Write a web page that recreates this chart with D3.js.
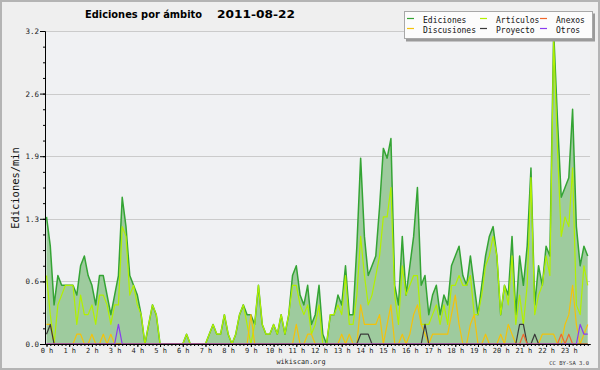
<!DOCTYPE html>
<html>
<head>
<meta charset="utf-8">
<script src="https://cdn.jsdelivr.net/npm/d3@7"></script>
<style>
  body { margin: 0; background: #efefef; }
  svg { display: block; }
</style>
</head>
<body>
<svg id="chart" width="600" height="370"></svg>
<script>
// one sample every 10 minutes, 00:00 .. 23:50 (edits per minute)
var ediciones = [
  1.3,1.0,0.4,0.7,0.6,0.6, 0.6,0.6,0.5,0.8,0.9,0.7,
  0.6,0.4,0.7,0.7,0.5,0.3, 0.5,0.7,1.5,1.2,0.7,0.6,
  0.5,0.3,0.0,0.2,0.4,0.3, 0.0,0.0,0.0,0.0,0.0,0.0,
  0.0,0.1,0.0,0.0,0.0,0.0, 0.0,0.1,0.2,0.1,0.1,0.3,
  0.1,0.0,0.1,0.3,0.4,0.3, 0.3,0.2,0.6,0.2,0.1,0.1,
  0.2,0.1,0.3,0.1,0.3,0.7, 0.8,0.5,0.4,0.6,0.2,0.3,
  0.6,0.1,0.0,0.3,0.3,0.5, 0.4,0.8,0.3,0.3,1.0,1.9,
  1.1,0.7,0.8,0.9,1.4,2.0, 1.9,2.1,0.6,0.4,1.1,0.5,
  0.8,1.1,1.6,0.6,0.7,0.3, 0.5,0.6,0.3,0.5,0.4,0.8,
  0.9,1.0,0.7,0.6,0.9,0.6, 0.3,0.6,0.9,1.1,1.2,0.9,
  0.3,0.6,0.5,1.1,0.3,0.9, 0.6,1.0,1.8,0.4,0.8,0.6,
  1.0,0.9,3.2,2.3,1.5,1.6, 1.7,2.4,1.2,0.8,1.0,0.9
];
var articulos = [
  0.7,0.3,0.0,0.4,0.5,0.6, 0.6,0.6,0.2,0.5,0.3,0.3,
  0.4,0.2,0.5,0.5,0.4,0.2, 0.4,0.4,1.2,1.1,0.5,0.6,
  0.4,0.3,0.0,0.2,0.4,0.3, 0.0,0.0,0.0,0.0,0.0,0.0,
  0.0,0.1,0.0,0.0,0.0,0.0, 0.0,0.1,0.2,0.1,0.1,0.3,
  0.1,0.0,0.1,0.3,0.4,0.2, 0.0,0.2,0.6,0.2,0.1,0.1,
  0.2,0.1,0.3,0.1,0.3,0.6, 0.6,0.4,0.3,0.4,0.1,0.2,
  0.4,0.0,0.0,0.3,0.3,0.4, 0.3,0.7,0.2,0.2,0.5,1.1,
  0.7,0.4,0.5,0.7,0.9,1.3, 1.3,1.6,0.5,0.2,0.8,0.5,
  0.6,0.7,0.7,0.2,0.2,0.2, 0.3,0.4,0.2,0.4,0.2,0.6,
  0.6,0.7,0.6,0.6,0.7,0.3, 0.3,0.5,0.8,0.9,1.1,0.9,
  0.3,0.6,0.4,0.9,0.2,0.5, 0.2,0.6,1.7,0.3,0.5,0.6,
  0.9,0.7,3.1,2.0,1.1,1.3, 1.2,1.8,0.4,0.3,0.8,0.6
];
var discusiones = [
  0.2,0.2,0.0,0.0,0.0,0.0, 0.0,0.0,0.1,0.1,0.0,0.0,
  0.1,0.0,0.0,0.1,0.0,0.1, 0.0,0.0,0.0,0.0,0.0,0.0,
  0.0,0.0,0.0,0.0,0.0,0.0, 0.0,0.0,0.0,0.0,0.0,0.0,
  0.0,0.0,0.0,0.0,0.0,0.0, 0.0,0.0,0.0,0.0,0.0,0.0,
  0.0,0.0,0.0,0.0,0.0,0.0, 0.3,0.0,0.0,0.0,0.0,0.0,
  0.0,0.0,0.0,0.0,0.0,0.0, 0.2,0.0,0.0,0.1,0.1,0.0,
  0.0,0.0,0.0,0.0,0.0,0.0, 0.1,0.0,0.1,0.0,0.0,0.4,
  0.2,0.2,0.2,0.2,0.3,0.0, 0.2,0.4,0.0,0.0,0.1,0.0,
  0.1,0.3,0.4,0.2,0.1,0.0, 0.1,0.1,0.1,0.1,0.1,0.3,
  0.5,0.2,0.0,0.0,0.2,0.3, 0.0,0.0,0.1,0.0,0.0,0.0,
  0.1,0.0,0.2,0.1,0.0,0.0, 0.0,0.0,0.0,0.0,0.0,0.1,
  0.1,0.1,0.1,0.0,0.0,0.2, 0.3,0.6,0.2,0.0,0.1,0.2
];
var proyecto = [
  0.1,0.2,0.0,0.0,0.0,0.0, 0.0,0.0,0.0,0.0,0.0,0.0,
  0.0,0.0,0.0,0.0,0.0,0.0, 0.0,0.0,0.0,0.0,0.0,0.0,
  0.0,0.0,0.0,0.0,0.0,0.0, 0.0,0.0,0.0,0.0,0.0,0.0,
  0.0,0.0,0.0,0.0,0.0,0.0, 0.0,0.0,0.0,0.0,0.0,0.0,
  0.0,0.0,0.0,0.0,0.0,0.0, 0.0,0.0,0.0,0.0,0.0,0.0,
  0.0,0.0,0.0,0.0,0.0,0.0, 0.0,0.0,0.0,0.0,0.0,0.0,
  0.0,0.0,0.0,0.0,0.0,0.0, 0.0,0.0,0.0,0.0,0.0,0.1,
  0.1,0.1,0.0,0.0,0.0,0.0, 0.0,0.0,0.0,0.0,0.0,0.0,
  0.0,0.0,0.0,0.0,0.2,0.0, 0.0,0.0,0.0,0.0,0.0,0.0,
  0.0,0.0,0.0,0.0,0.0,0.0, 0.0,0.0,0.0,0.0,0.0,0.0,
  0.0,0.0,0.0,0.0,0.0,0.2, 0.2,0.0,0.0,0.1,0.0,0.0,
  0.0,0.0,0.0,0.0,0.0,0.0, 0.0,0.0,0.0,0.0,0.0,0.0
];
var anexos = [
  0,0,0,0,0,0, 0,0,0,0,0,0,
  0,0,0,0,0,0, 0,0,0,0,0,0,
  0,0,0,0,0,0, 0,0,0,0,0,0,
  0,0,0,0,0,0, 0,0,0,0,0,0,
  0,0,0,0,0,0, 0,0,0,0,0,0,
  0,0,0,0,0,0, 0,0,0,0,0,0,
  0,0,0,0,0,0, 0,0,0,0,0,0,
  0,0,0,0,0,0, 0,0,0,0,0,0,
  0,0,0,0,0,0, 0,0,0,0,0,0,
  0,0,0,0,0,0, 0,0,0,0,0,0,
  0,0,0,0,0,0, 0.1,0,0,0,0,0,
  0,0,0,0,0.1,0, 0.1,0,0,0,0,0
];
var otros = [
  0,0,0,0,0,0, 0,0,0,0,0,0,
  0,0,0,0,0,0, 0,0.2,0,0,0,0,
  0,0,0,0,0,0, 0,0,0,0,0,0,
  0,0,0,0,0,0, 0,0,0,0,0,0,
  0,0,0,0,0,0, 0,0,0,0,0,0,
  0,0,0,0,0,0, 0,0,0,0,0,0,
  0,0,0,0,0,0, 0,0,0,0,0,0,
  0,0,0,0,0,0, 0,0,0,0,0,0,
  0,0,0,0,0,0, 0,0,0,0,0,0,
  0,0,0,0,0,0, 0,0,0,0,0,0,
  0,0,0,0,0,0, 0,0,0,0,0,0,
  0,0,0,0,0,0, 0,0,0,0.2,0.1,0.1
];

var seriesNames = ["Ediciones", "Artículos", "Discusiones", "Proyecto", "Anexos", "Otros"];
var hours = d3.range(0, 24);
var yTicks = [0, 0.64, 1.28, 1.92, 2.56, 3.2];
var title = "Ediciones por ámbito";
var titleDate = "2011-08-22";
var yLabel = "Ediciones/min";

var W = 600, H = 370;
var plotLeft = 45, plotRight = 590, plotTop = 31, plotBottom = 344;
var mono = "'DejaVu Sans Mono', monospace";

var svg = d3.select("#chart");

// minutes of the day, the plot starts a little before midnight
var x = d3.scaleLinear().domain([-4, 1436]).range([plotLeft, plotRight]);
var y = d3.scaleLinear().domain([0, 3.2]).range([plotBottom, plotTop]);

svg.append("rect").attr("x", 1).attr("y", 1).attr("width", W - 2).attr("height", H - 2)
  .attr("fill", "#efefef").attr("stroke", "#b4b4b4").attr("stroke-width", 2);
svg.append("rect").attr("x", plotLeft).attr("y", plotTop).attr("width", plotRight - plotLeft).attr("height", plotBottom - plotTop)
  .attr("fill", "#f0f1f3");

// grid
svg.append("g").selectAll("line").data(yTicks.slice(1)).enter().append("line")
  .attr("x1", plotLeft).attr("x2", plotRight)
  .attr("y1", d => Math.round(y(d)) + 0.5).attr("y2", d => Math.round(y(d)) + 0.5)
  .attr("stroke", "#cbcbcb").attr("stroke-width", 1);

var colors = {
  "Ediciones": "#34a434",
  "Artículos": "#b2f000",
  "Discusiones": "#f4c20a",
  "Proyecto": "#3a3a3a",
  "Anexos": "#f0682c",
  "Otros": "#8a3cf0"
};
var valuesOf = {
  "Ediciones": ediciones,
  "Artículos": articulos,
  "Discusiones": discusiones,
  "Proyecto": proyecto,
  "Anexos": anexos,
  "Otros": otros
};

var area = d3.area()
  .x((d, i) => x(i * 10))
  .y0(plotBottom)
  .y1(d => y(d));
svg.append("path").datum(ediciones).attr("d", area).attr("fill", "#9ecb9e");

var line = d3.line()
  .x((d, i) => x(i * 10))
  .y(d => y(d));

seriesNames.forEach(function (name) {
  svg.append("path").datum(valuesOf[name])
    .attr("d", line)
    .attr("fill", "none")
    .attr("stroke", colors[name])
    .attr("stroke-width", name == "Ediciones" ? 1.5 : 1.2)
    .attr("stroke-linejoin", "round");
});

// x axis: hour labels, minor tick every 10 minutes
var xMinor = d3.axisBottom(x).tickValues(d3.range(0, 1440, 10)).tickSize(2).tickSizeOuter(0).tickFormat("");
var xMajor = d3.axisBottom(x).tickValues(hours.map(h => h * 60)).tickSize(3).tickSizeOuter(0).tickPadding(1)
  .tickFormat(d => (d / 60) + " h");

var gx = svg.append("g").attr("transform", `translate(0,${plotBottom})`);
gx.append("g").call(xMinor);
gx.append("g").call(xMajor);
gx.selectAll(".domain").attr("stroke", "#000");
gx.selectAll(".tick line").attr("stroke", "#000");
gx.selectAll("text").attr("font-family", mono).attr("font-size", 7).attr("fill", "#222");

// y axis
var yMinor = d3.axisLeft(y).tickValues(d3.range(0, 3.2, 0.16)).tickSize(2).tickSizeOuter(0).tickFormat("");
var yMajor = d3.axisLeft(y).tickValues(yTicks).tickSize(5).tickSizeOuter(0).tickPadding(1)
  .tickFormat(d => d.toFixed(1));
var gy = svg.append("g").attr("transform", `translate(${plotLeft},0)`);
gy.append("g").call(yMinor);
gy.append("g").call(yMajor);
gy.selectAll(".domain").attr("stroke", "#000");
gy.selectAll(".tick line").attr("stroke", "#000");
gy.selectAll("text").attr("font-family", mono).attr("font-size", 7.5).attr("fill", "#222");

// title (name and date in one text)
var titleText = svg.append("text").attr("y", 18)
  .attr("font-family", "'DejaVu Sans', sans-serif").attr("font-weight", "bold").attr("font-size", 11)
  .attr("fill", "#000");
titleText.append("tspan").attr("x", 85).text(title)
  .attr("textLength", 117).attr("lengthAdjust", "spacingAndGlyphs");
titleText.append("tspan").attr("x", 217).text(titleDate)
  .attr("textLength", 78).attr("lengthAdjust", "spacingAndGlyphs");

// y label
svg.append("text").attr("transform", "translate(19,188) rotate(-90)")
  .attr("text-anchor", "middle").text(yLabel)
  .attr("font-family", mono).attr("font-size", 10.4).attr("fill", "#111");

svg.append("text").attr("x", 301).attr("y", 364).attr("text-anchor", "middle").text("wikiscan.org")
  .attr("font-family", mono).attr("font-size", 6.8).attr("fill", "#222");
svg.append("text").attr("x", 589).attr("y", 365).attr("text-anchor", "end").text("CC BY-SA 3.0")
  .attr("font-family", mono).attr("font-size", 5.5).attr("fill", "#333");

// legend
var legendSlots = {
  "Ediciones": [0, 0], "Discusiones": [0, 1],
  "Artículos": [1, 0], "Proyecto": [1, 1],
  "Anexos": [2, 0], "Otros": [2, 1]
};
var legendCols = [407, 480, 540];
var legendRows = [18.5, 28.5];

var lg = svg.append("g");
lg.append("rect").attr("x", 406).attr("y", 13.5).attr("width", 189).attr("height", 28).attr("fill", "#9a9a9a");
lg.append("rect").attr("x", 404.5).attr("y", 11.5).attr("width", 188).attr("height", 27)
  .attr("fill", "#fcfcfc").attr("stroke", "#a8a8a8").attr("stroke-width", 1);

var items = lg.selectAll(".item").data(seriesNames).enter().append("g").attr("class", "item")
  .attr("transform", d => `translate(${legendCols[legendSlots[d][0]]},${legendRows[legendSlots[d][1]]})`);
items.append("line").attr("x1", 0).attr("x2", 7).attr("y1", 0).attr("y2", 0)
  .attr("stroke", d => colors[d]).attr("stroke-width", 1.2);
items.append("text").attr("x", 16).attr("y", 4).text(d => d)
  .attr("font-family", mono).attr("font-size", 8).attr("fill", "#111");
</script>
</body>
</html>
